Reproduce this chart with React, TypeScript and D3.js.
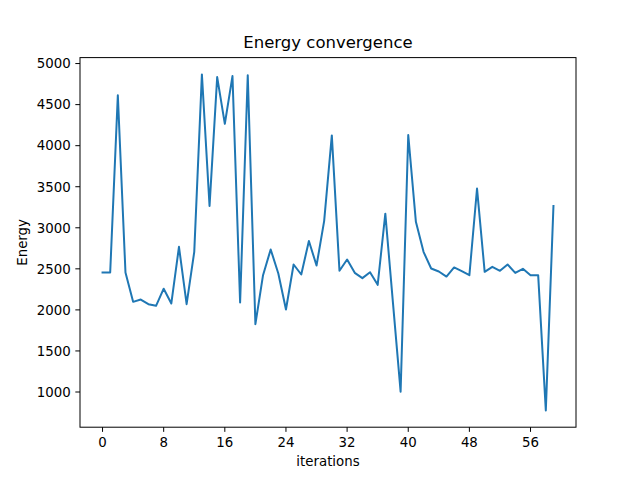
import React from "react";
import * as d3 from "d3";

const energy: number[] = [
  2455, 2455, 4615, 2455, 2098, 2126, 2070, 2050, 2258, 2078,
  2768, 2070, 2707, 4868, 3265, 4835, 4266, 4848, 2090, 4858,
  1826, 2423, 2736, 2443, 2005, 2553, 2431, 2840, 2540, 3085,
  4125, 2476, 2613, 2451, 2387, 2459, 2305, 3172, 2085, 1004,
  4130, 3072, 2707, 2504, 2468, 2406, 2517, 2472, 2423, 3478,
  2464, 2524, 2476, 2553, 2451, 2500, 2423, 2423, 776, 3265,
];
const iterations: number[] = energy.map((_, i) => i);
const xTicks: number[] = [0, 8, 16, 24, 32, 40, 48, 56];
const yTicks: number[] = [1000, 1500, 2000, 2500, 3000, 3500, 4000, 4500, 5000];
const title = "Energy convergence";
const xLabel = "iterations";
const yLabel = "Energy";

export default function App() {
  const W = 640, H = 480;
  const left = 80, right = 576, top = 57.6, bottom = 427.2;
  const xmin = d3.min(iterations)!, xmax = d3.max(iterations)!;
  const xpad = (xmax - xmin) * 0.05;
  const [ymin, ymax] = d3.extent(energy) as [number, number];
  const ypad = (ymax - ymin) * 0.05;
  const x = d3.scaleLinear().domain([xmin - xpad, xmax + xpad]).range([left, right]);
  const y = d3.scaleLinear().domain([ymin - ypad, ymax + ypad]).range([bottom, top]);
  const line = d3.line<number>().x((_, i) => x(iterations[i])).y((d) => y(d));
  const font = "DejaVu Sans, sans-serif";
  return (
    <svg width={W} height={H} style={{ position: "absolute", left: 0, top: 0, background: "#fff" }} fontFamily={font}>
      <rect x={0} y={0} width={W} height={H} fill="#fff" />
      <path d={line(energy) || ""} fill="none" stroke="#1f77b4" strokeWidth={2} strokeLinejoin="round" strokeLinecap="square" />
      <rect x={left} y={top} width={right - left} height={bottom - top} fill="none" stroke="#000" strokeWidth={1} />
      {xTicks.map((t) => (
        <g key={"x" + t}>
          <line x1={x(t)} x2={x(t)} y1={bottom} y2={bottom + 4.67} stroke="#000" strokeWidth={1} />
          <text x={x(t)} y={bottom + 9.3} dy="0.76em" fontSize={13.33} textAnchor="middle" fill="#000">{t}</text>
        </g>
      ))}
      {yTicks.map((t) => (
        <g key={"y" + t}>
          <line x1={left - 4.67} x2={left} y1={y(t)} y2={y(t)} stroke="#000" strokeWidth={1} />
          <text x={left - 9.3} y={y(t)} dy="0.36em" fontSize={13.33} textAnchor="end" fill="#000">{t}</text>
        </g>
      ))}
      <text x={(left + right) / 2} y={top - 10} fontSize={16.5} textAnchor="middle" fill="#000">{title}</text>
      <text x={(left + right) / 2} y={466} fontSize={13.33} textAnchor="middle" fill="#000">{xLabel}</text>
      <text transform={`translate(26.5, ${(top + bottom) / 2}) rotate(-90)`} fontSize={13.33} textAnchor="middle" fill="#000">{yLabel}</text>
    </svg>
  );
}
